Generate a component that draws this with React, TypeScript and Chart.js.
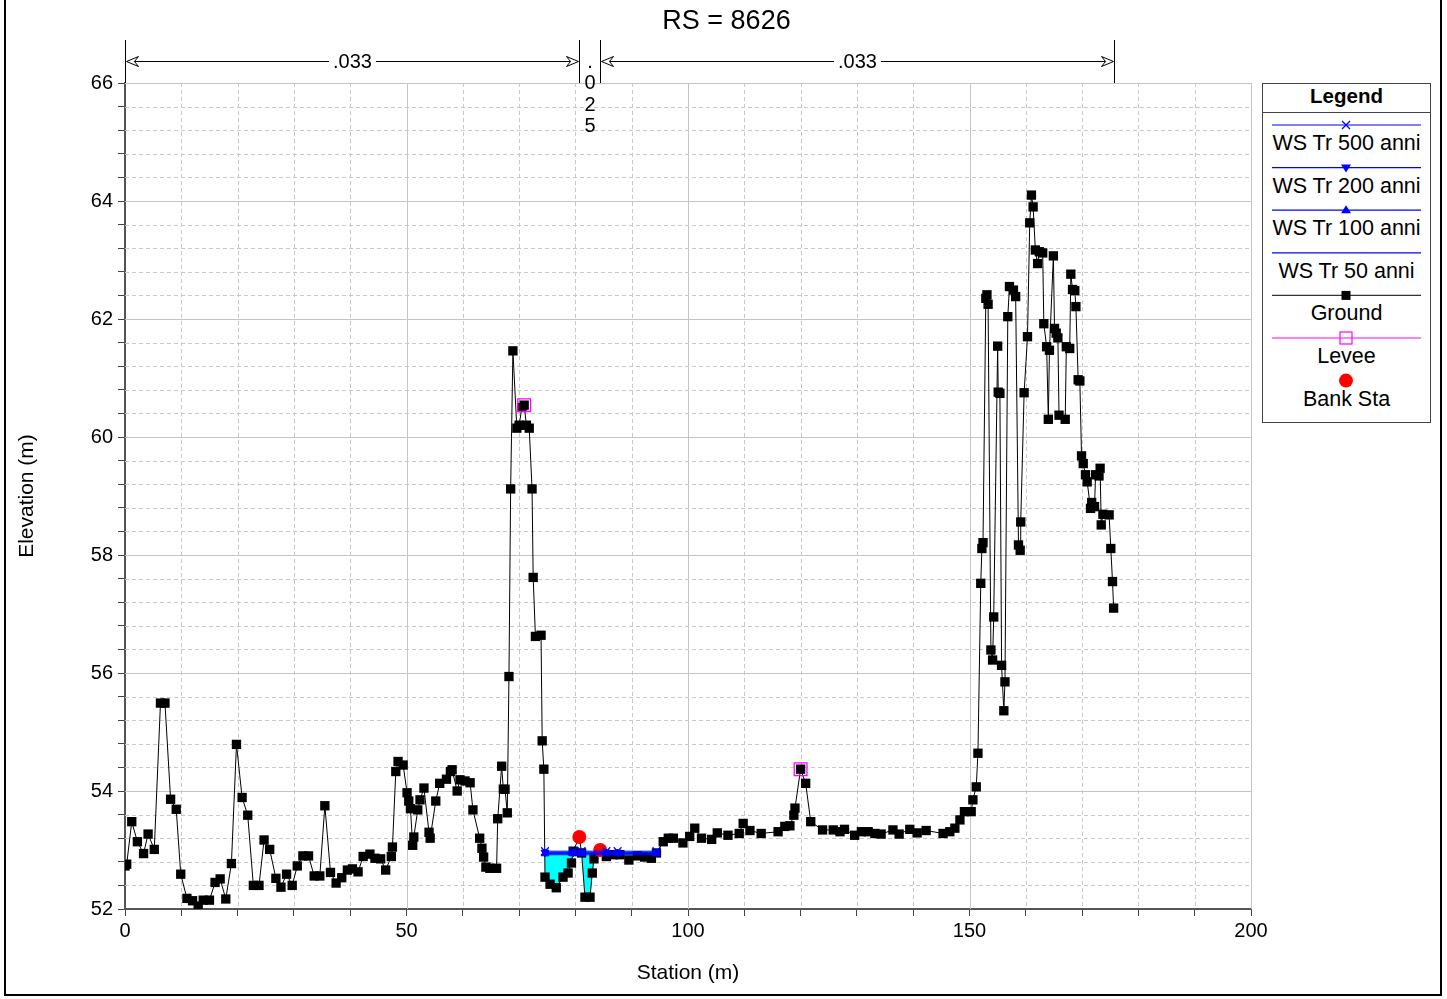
import React, { useEffect, useRef } from 'react';
import { Chart, registerables } from 'chart.js';

Chart.register(...registerables);

// ---------- DATA ----------
const titleText = 'RS = 8626';
const xTitle = 'Station (m)';
const yTitle = 'Elevation (m)';

const groundSta = [
  0.0, 0.3, 1.2, 2.2, 3.3, 4.1, 5.2, 6.3, 7.1, 8.1, 9.1, 9.9, 11.0, 12.0, 13.0, 13.9, 15.0, 16.0, 16.9, 17.9,
  18.9, 19.8, 20.8, 21.8, 22.8, 23.8, 24.7, 25.7, 26.8, 27.7, 28.7, 29.7, 30.6, 31.6, 32.6, 33.6, 34.6, 35.5,
  36.5, 37.5, 38.5, 39.5, 40.4, 41.4, 42.3, 43.5, 44.4, 45.4, 46.3, 47.3, 47.5, 48.1, 48.5, 49.4, 50.1, 50.4,
  50.7, 51.1, 51.3, 52.0, 52.4, 53.1, 54.0, 54.2, 55.2, 55.9, 57.1, 57.8, 58.1, 59.0, 59.5, 60.4, 61.3, 61.8,
  63.0, 63.4, 63.7, 64.1, 64.8, 66.0, 66.2, 66.9, 67.2, 67.5, 67.9, 68.2, 68.5, 68.9, 69.6, 70.0, 70.5, 70.9,
  71.3, 71.8, 72.3, 72.5, 72.9, 73.9, 74.1, 74.4, 74.6, 75.5, 76.6, 77.8, 78.7, 79.3, 79.6, 80.7, 81.1, 81.7,
  82.6, 83.0, 83.3, 84.4, 85.5, 86.7, 87.9, 89.5, 91.0, 92.3, 93.5, 94.4, 95.6, 96.5, 97.4, 99.1, 100.3, 101.2,
  102.4, 104.2, 105.2, 107.1, 109.1, 109.8, 111.0, 113.0, 116.0, 117.2, 118.1, 118.8, 119.0, 120.0, 120.9,
  121.8, 123.9, 125.8, 127.0, 127.8, 129.6, 130.8, 132.0, 133.2, 134.3, 136.4, 137.5, 139.4, 140.7, 142.3,
  145.3, 146.5, 147.4, 148.3, 149.1, 150.3, 150.6, 151.2, 151.5, 152.0, 152.2, 152.4, 152.9, 153.1, 153.3,
  153.8, 154.1, 154.3, 155.0, 155.1, 155.4, 155.7, 156.1, 156.3, 156.8, 157.1, 157.8, 158.2, 158.7, 159.0,
  159.1, 159.7, 160.3, 160.7, 161.0, 161.3, 161.7, 162.1, 162.4, 163.0, 163.2, 163.7, 164.0, 164.2, 164.9,
  165.1, 165.4, 165.7, 165.9, 167.0, 167.2, 167.8, 168.0, 168.3, 168.7, 168.9, 169.3, 169.6, 169.9, 170.2,
  170.6, 170.9, 171.5, 171.7, 172.2, 172.4, 173.0, 173.2, 173.4, 173.7, 174.8, 175.1, 175.4, 175.6,
];
const groundElev = [
  52.73, 52.76, 53.48, 53.14, 52.94, 53.27, 53.01, 55.49, 55.49, 53.86, 53.69, 52.59, 52.18, 52.14, 52.05, 52.15, 52.15, 52.45, 52.51, 52.17,
  52.77, 54.79, 53.89, 53.59, 52.40, 52.40, 53.17, 53.01, 52.52, 52.37, 52.59, 52.40, 52.73, 52.90, 52.90, 52.56, 52.56, 53.75,
  52.62, 52.44, 52.53, 52.66, 52.68, 52.63, 52.89, 52.93, 52.86, 52.85, 52.66, 52.89, 53.05, 54.33, 54.50, 54.44, 53.97, 53.83,
  53.70, 53.08, 53.22, 53.68, 53.85, 54.05, 53.30, 53.20, 53.83, 54.13, 54.20, 54.33, 54.36, 54.00, 54.19, 54.17, 54.14, 53.68,
  53.20, 53.03, 52.88, 52.71, 52.69, 52.69, 53.53, 54.42, 54.03, 54.03, 53.63, 55.94, 59.12, 61.46, 60.15, 60.20, 60.50, 60.54,
  60.20, 60.15, 59.12, 57.62, 56.62, 56.64, 54.85, 54.37, 52.54, 52.42, 52.36, 52.54, 52.61, 52.78, 52.98, 53.22, 52.95, 52.20,
  52.20, 52.61, 52.85, 53.00, 52.89, 52.92, 52.92, 52.83, 52.90, 52.88, 52.86, 52.95, 53.14, 53.20, 53.20, 53.12, 53.23, 53.37,
  53.20, 53.18, 53.29, 53.25, 53.28, 53.45, 53.33, 53.28, 53.31, 53.40, 53.41, 53.59, 53.71, 54.37, 54.13,
  53.48, 53.34, 53.34, 53.31, 53.35, 53.25, 53.31, 53.31, 53.28, 53.27, 53.34, 53.27, 53.35, 53.29, 53.33,
  53.28, 53.31, 53.37, 53.51, 53.65, 53.65, 53.85, 54.07, 54.64, 57.52, 58.11, 58.21, 62.35, 62.41, 62.25,
  56.39, 56.22, 56.95, 61.54, 60.76, 60.74, 56.13, 55.36, 55.85, 62.04, 62.55, 62.49, 62.38, 58.17, 58.08,
  58.56, 60.75, 61.70, 63.63, 64.10, 63.90, 63.17, 62.94, 63.14, 63.12, 61.92, 61.53, 60.30, 61.47, 63.07,
  61.84, 61.76, 61.68, 60.37, 60.30, 61.53, 61.50, 62.76, 62.50, 62.48, 62.21, 60.97, 60.95, 59.68, 59.55,
  59.36, 59.24, 58.79, 58.89, 58.82, 59.36, 59.34, 59.47, 58.51, 58.69, 58.68, 58.11, 57.55, 57.10,
];

const leveeSta = [70.9, 120.0];
const leveeElev = [60.54, 54.37];

const bankSta = [80.7, 84.4];
const bankElev = [53.22, 53.0];

const wsSta = [74.6, 79.6, 81.1, 85.5, 87.5, 94.4];
const ws500Elev = [52.98, 52.98, 52.98, 52.98, 52.98, 52.98];
const ws200Elev = [52.96, 52.96, 52.96, 52.96, 52.96, 52.96];
const ws100Elev = [52.94, 52.94, 52.94, 52.94, 52.94, 52.94];
const ws50Elev = [52.92, 52.92, 52.92, 52.92, 52.92, 52.92];

// Manning's n regions
const nSta = [0, 80.7, 84.4, 175.6];
const nLabels = ['.033', '.025', '.033'];

const xTickLabels = [0, 50, 100, 150, 200];
const yTickLabels = [52, 54, 56, 58, 60, 62, 64, 66];

const legendItems = [
  { label: 'WS Tr 500 anni', color: '#0000ff', marker: 'cross', line: true },
  { label: 'WS Tr 200 anni', color: '#0000ff', marker: 'triDown', line: true },
  { label: 'WS Tr 100 anni', color: '#0000ff', marker: 'triUp', line: true },
  { label: 'WS Tr 50 anni', color: '#0000ff', marker: 'none', line: true },
  { label: 'Ground', color: '#333333', marker: 'square', line: true },
  { label: 'Levee', color: '#ff00ff', marker: 'openSquare', line: true },
  { label: 'Bank Sta', color: '#ff0000', marker: 'dot', line: false },
];

// ---------- STYLE ----------
const FONT = "Arial, 'Liberation Sans', sans-serif";
const X_MIN = xTickLabels[0];
const X_MAX = xTickLabels[xTickLabels.length - 1];
const Y_MIN = yTickLabels[0];
const Y_MAX = yTickLabels[yTickLabels.length - 1];
const X_GRID = 10;
const Y_GRID = 0.4;

const pts = (xs: number[], ys: number[]) => xs.map((x, i) => ({ x, y: ys[i] }));

function waterPolygon() {
  const top = ws500Elev[0];
  const x0 = wsSta[0];
  const x1 = wsSta[wsSta.length - 1];
  const out: { x: number; y: number }[] = [];
  for (let i = 0; i < groundSta.length - 1; i++) {
    const xa = groundSta[i], ya = groundElev[i], xb = groundSta[i + 1], yb = groundElev[i + 1];
    if (xb < x0 || xa > x1) continue;
    if (xa >= x0) out.push({ x: xa, y: Math.min(ya, top) });
    if ((ya - top) * (yb - top) < 0) {
      const t = (top - ya) / (yb - ya);
      out.push({ x: xa + t * (xb - xa), y: top });
    }
  }
  return out;
}

const isMultiple = (v: number, m: number) => Math.abs(v / m - Math.round(v / m)) < 1e-6;

const plotPlugin = {
  id: 'hecrasDecor',
  beforeDatasetsDraw(chart: any) {
    const { ctx, chartArea: ca, scales } = chart;
    const xs = scales.x;
    const ys = scales.y;
    ctx.save();
    ctx.lineWidth = 1;
    const nx = Math.round((X_MAX - X_MIN) / X_GRID);
    for (let i = 1; i <= nx; i++) {
      const v = X_MIN + i * X_GRID;
      const major = xTickLabels.some((t) => Math.abs(t - v) < 1e-6);
      const px = Math.round(xs.getPixelForValue(v)) + 0.5;
      ctx.strokeStyle = major ? '#c4c4c4' : '#c8c8c8';
      ctx.setLineDash(major ? [] : [4, 3]);
      ctx.beginPath();
      ctx.moveTo(px, ca.top);
      ctx.lineTo(px, ca.bottom);
      ctx.stroke();
    }
    const ny = Math.round((Y_MAX - Y_MIN) / Y_GRID);
    for (let i = 1; i <= ny; i++) {
      const v = Y_MIN + i * Y_GRID;
      const major = yTickLabels.some((t) => Math.abs(t - v) < 1e-6);
      const py = Math.round(ys.getPixelForValue(v)) + 0.5;
      ctx.strokeStyle = major ? '#c4c4c4' : '#c8c8c8';
      ctx.setLineDash(major ? [] : [4, 3]);
      ctx.beginPath();
      ctx.moveTo(ca.left, py);
      ctx.lineTo(ca.right, py);
      ctx.stroke();
    }
    ctx.restore();
  },
  afterDraw(chart: any) {
    const { ctx, chartArea: ca, scales } = chart;
    const xs = scales.x;
    ctx.save();
    // title
    ctx.fillStyle = '#000';
    ctx.font = `27px ${FONT}`;
    ctx.textAlign = 'center';
    ctx.textBaseline = 'middle';
    ctx.fillText(titleText, chart.width / 2 + 3, 22);

    // Manning's n annotation
    const lineY = 61.5;
    const topY = 40;
    const bx = nSta.map((s) => Math.round(xs.getPixelForValue(s)) + 0.5);
    ctx.strokeStyle = '#000';
    ctx.lineWidth = 1;
    bx.forEach((px) => {
      ctx.beginPath();
      ctx.moveTo(px, topY);
      ctx.lineTo(px, ca.top);
      ctx.stroke();
    });
    ctx.font = `20px ${FONT}`;
    const arrow = (tip: number, dir: number) => {
      ctx.beginPath();
      ctx.moveTo(tip + dir * 12, lineY - 5);
      ctx.lineTo(tip, lineY);
      ctx.lineTo(tip + dir * 12, lineY + 5);
      ctx.lineTo(tip + dir * 8, lineY);
      ctx.closePath();
      ctx.fillStyle = '#fff';
      ctx.fill();
      ctx.stroke();
    };
    for (let i = 0; i < nLabels.length; i++) {
      const x1 = bx[i];
      const x2 = bx[i + 1];
      const label = nLabels[i];
      const w = ctx.measureText(label).width;
      ctx.fillStyle = '#000';
      const cx = (x1 + x2) / 2;
      if (x2 - x1 > w + 40) {
        ctx.beginPath();
        ctx.moveTo(x1 + 2, lineY);
        ctx.lineTo(cx - w / 2 - 4, lineY);
        ctx.moveTo(cx + w / 2 + 4, lineY);
        ctx.lineTo(x2 - 2, lineY);
        ctx.stroke();
        ctx.fillStyle = '#000';
        ctx.textAlign = 'center';
        ctx.textBaseline = 'middle';
        ctx.fillText(label, cx, lineY + 1);
        arrow(x1 + 1, 1);
        arrow(x2 - 1, -1);
      } else {
        ctx.textAlign = 'center';
        ctx.textBaseline = 'middle';
        label.split('').forEach((c, k) => {
          ctx.fillText(c, cx, 62 + k * 21.5);
        });
      }
    }
    ctx.restore();
  },
};

function LegendBox() {
  const W = 169;
  const H = 340;
  const lineY = (k: number) => 42 + 42.6 * k;
  const textY = (k: number) => 60 + 42.6 * k;
  const cx = 84;
  const marker = (type: string, color: string, y: number) => {
    switch (type) {
      case 'cross':
        return (
          <g stroke={color} strokeWidth={1.2}>
            <line x1={cx - 4} y1={y - 4} x2={cx + 4} y2={y + 4} />
            <line x1={cx - 4} y1={y + 4} x2={cx + 4} y2={y - 4} />
          </g>
        );
      case 'triDown':
        return <polygon points={`${cx - 5},${y - 3} ${cx + 5},${y - 3} ${cx},${y + 5}`} fill={color} />;
      case 'triUp':
        return <polygon points={`${cx - 5},${y + 3} ${cx + 5},${y + 3} ${cx},${y - 5}`} fill={color} />;
      case 'square':
        return <rect x={cx - 4.5} y={y - 4.5} width={9} height={9} fill="#000" />;
      case 'openSquare':
        return <rect x={cx - 6} y={y - 6} width={12} height={12} fill="none" stroke={color} strokeWidth={1.2} />;
      case 'dot':
        return <circle cx={cx} cy={y} r={7} fill={color} />;
      default:
        return null;
    }
  };
  return (
    <div
      style={{
        position: 'absolute',
        left: 1262,
        top: 83,
        width: W,
        height: H,
        border: '1px solid #444',
        boxSizing: 'border-box',
        background: '#fff',
        fontFamily: FONT,
        color: '#000',
      }}
    >
      <svg width={W} height={H} style={{ position: 'absolute', left: -1, top: -1 }}>
        <line x1={0} y1={29.5} x2={W} y2={29.5} stroke="#444" strokeWidth={1} />
        {legendItems.map((it, k) => (
          <g key={it.label}>
            {it.line && (
              <line x1={10} y1={lineY(k)} x2={159} y2={lineY(k)} stroke={it.color} strokeWidth={1.2} />
            )}
            {marker(it.marker, it.color, lineY(k))}
          </g>
        ))}
      </svg>
      <div
        style={{
          position: 'absolute',
          left: -1,
          width: W,
          top: 0,
          height: 24,
          lineHeight: '24px',
          textAlign: 'center',
          fontWeight: 'bold',
          fontSize: 20.5,
        }}
      >
        Legend
      </div>
      {legendItems.map((it, k) => (
        <div
          key={it.label}
          style={{
            position: 'absolute',
            left: -1,
            width: W,
            top: textY(k) - 13,
            height: 24,
            lineHeight: '24px',
            textAlign: 'center',
            fontSize: 21.5,
            whiteSpace: 'nowrap',
          }}
        >
          {it.label}
        </div>
      ))}
    </div>
  );
}

export default function App() {
  const canvasRef = useRef<HTMLCanvasElement | null>(null);

  useEffect(() => {
    const canvas = canvasRef.current;
    if (!canvas) return;
    const wsTop = ws500Elev[0];
    const chart = new Chart(canvas, {
      type: 'line',
      data: {
        datasets: [
          {
            label: 'WS Tr 500 anni',
            data: pts(wsSta, ws500Elev),
            borderColor: '#0000ff',
            borderWidth: 1,
            pointStyle: 'crossRot',
            pointRadius: 5.5,
            pointBorderColor: '#0000ff',
            pointBackgroundColor: '#0000ff',
            pointBorderWidth: 1.2,
            fill: false,
            tension: 0,
          },
          {
            label: 'WS Tr 200 anni',
            data: pts(wsSta, ws200Elev),
            borderColor: '#0000ff',
            borderWidth: 1,
            pointStyle: 'triangle',
            pointRotation: 180,
            pointRadius: 4.5,
            pointBorderColor: '#0000ff',
            pointBackgroundColor: '#0000ff',
            fill: false,
            tension: 0,
          },
          {
            label: 'WS Tr 100 anni',
            data: pts(wsSta, ws100Elev),
            borderColor: '#0000ff',
            borderWidth: 1,
            pointStyle: 'triangle',
            pointRadius: 4.5,
            pointBorderColor: '#0000ff',
            pointBackgroundColor: '#0000ff',
            fill: false,
            tension: 0,
          },
          {
            label: 'WS Tr 50 anni',
            data: pts(wsSta, ws50Elev),
            borderColor: '#0000ff',
            borderWidth: 1,
            pointRadius: 0,
            fill: false,
            tension: 0,
          },
          {
            label: 'Bank Sta',
            data: pts(bankSta, bankElev),
            showLine: false,
            pointStyle: 'circle',
            pointRadius: 7,
            pointBackgroundColor: '#ff0000',
            pointBorderColor: '#ff0000',
            pointBorderWidth: 0,
            fill: false,
          },
          {
            label: 'Levee',
            data: pts(leveeSta, leveeElev),
            showLine: false,
            pointStyle: 'rect',
            pointRadius: 9,
            pointBackgroundColor: 'rgba(0,0,0,0)',
            pointBorderColor: '#ff00ff',
            pointBorderWidth: 1.3,
            fill: false,
          },
          {
            label: 'Ground',
            data: pts(groundSta, groundElev),
            borderColor: '#000',
            borderWidth: 1,
            pointStyle: 'rect',
            pointRadius: 6.6,
            pointBackgroundColor: '#000',
            pointBorderColor: '#000',
            pointBorderWidth: 0,
            fill: false,
            tension: 0,
          },
          {
            label: 'water',
            data: waterPolygon(),
            borderWidth: 0,
            borderColor: 'rgba(0,0,0,0)',
            pointRadius: 0,
            backgroundColor: '#00ffff',
            fill: { value: wsTop },
            tension: 0,
          },
        ],
      },
      options: {
        animation: false,
        responsive: false,
        events: [],
        layout: { padding: { top: 83, right: 196, left: 0, bottom: 0 } },
        plugins: {
          legend: { display: false },
          tooltip: { enabled: false },
          title: { display: false },
        },
        scales: {
          x: {
            type: 'linear',
            min: X_MIN,
            max: X_MAX,
            afterFit: (s: any) => {
              s.height = 90;
            },
            ticks: {
              stepSize: X_GRID,
              autoSkip: false,
              maxRotation: 0,
              padding: 3,
              color: '#000',
              font: { family: FONT, size: 20 },
              callback: (v: any) => (xTickLabels.some((t) => Math.abs(t - v) < 1e-6) ? String(Math.round(v)) : ''),
            },
            grid: {
              drawOnChartArea: false,
              drawTicks: true,
              tickLength: 7,
              tickColor: '#444',
              color: '#444',
            },
            border: { display: true, color: '#555', width: 2 },
            title: {
              display: true,
              text: xTitle,
              color: '#000',
              font: { family: FONT, size: 21 },
              padding: { top: 0, bottom: 13 },
            },
          },
          y: {
            type: 'linear',
            min: Y_MIN,
            max: Y_MAX,
            afterFit: (s: any) => {
              s.width = 125;
            },
            ticks: {
              stepSize: Y_GRID,
              autoSkip: false,
              padding: 5,
              color: '#000',
              font: { family: FONT, size: 20 },
              callback: (v: any) => (isMultiple(v, 2) ? String(Math.round(v)) : ''),
            },
            grid: {
              drawOnChartArea: false,
              drawTicks: true,
              tickLength: 7,
              tickColor: '#444',
              color: '#444',
            },
            border: { display: true, color: '#555', width: 2 },
            title: {
              display: true,
              text: yTitle,
              color: '#000',
              font: { family: FONT, size: 21 },
              padding: { top: 15, bottom: 0 },
            },
          },
        },
      },
      plugins: [plotPlugin],
    } as any);
    return () => chart.destroy();
  }, []);

  return (
    <div
      style={{
        position: 'absolute',
        left: 0,
        top: 0,
        width: 1447,
        height: 999,
        overflow: 'hidden',
        background: '#fff',
      }}
    >
      <canvas ref={canvasRef} width={1447} height={999} style={{ position: 'absolute', left: 0, top: 0, width: 1447, height: 999 }} />
      <LegendBox />
      <div
        style={{
          position: 'absolute',
          left: 4,
          top: -4,
          width: 1438,
          height: 1000,
          border: '2px solid #000',
          boxSizing: 'border-box',
          pointerEvents: 'none',
        }}
      />
    </div>
  );
}
